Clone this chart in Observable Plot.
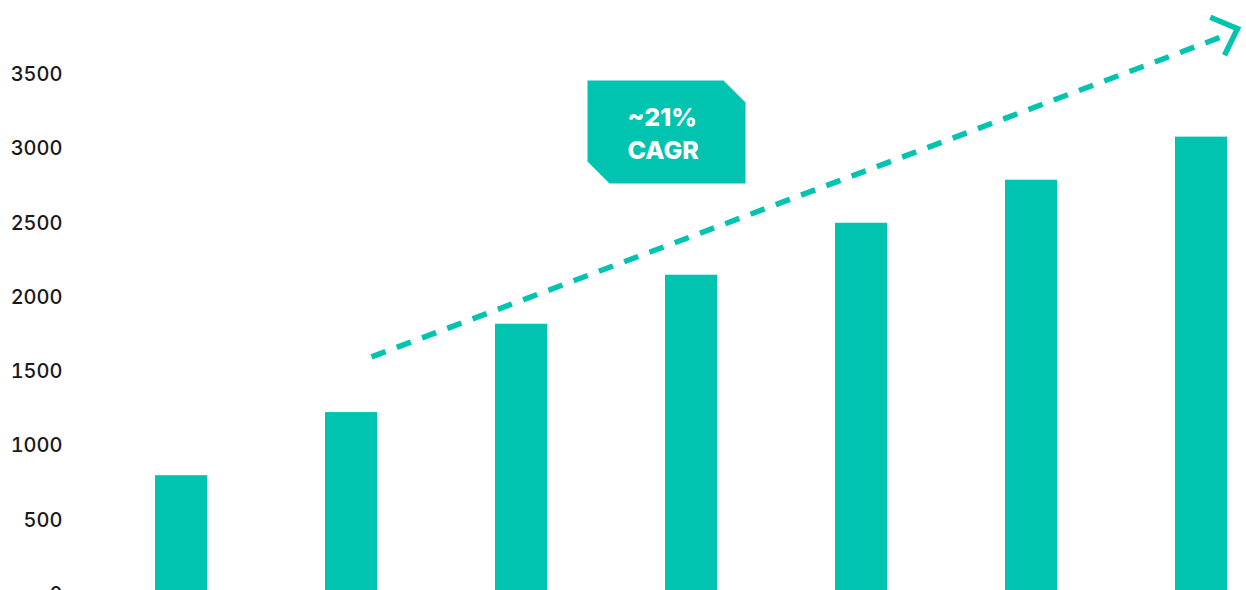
<!DOCTYPE html>
<html>
<head>
<meta charset="utf-8">
<script src="https://cdn.jsdelivr.net/npm/d3@7"></script>
<script src="https://cdn.jsdelivr.net/npm/@observablehq/plot@0.6"></script>
<style>
  html, body { margin: 0; padding: 0; background: #ffffff; overflow: hidden; }
  #chart svg { display: block; }
</style>
</head>
<body>
<div id="chart"></div>
<script>
// ---- data ----
const categories = ["Y1", "Y2", "Y3", "Y4", "Y5", "Y6", "Y7"];
const values = [800, 1225, 1820, 2150, 2500, 2790, 3080];
const yTicks = [0, 500, 1000, 1500, 2000, 2500, 3000, 3500];

// trend annotation (data coordinates)
const trendStart = {category: "Y2", value: 1600};
const trendEnd = {category: "Y7", value: 3755};
const trendTip = {category: "Y7", value: 3810};
const labelAnchor = {category: "Y4", value: 3115};
const labelText = "~21%\nCAGR";

const teal = "#00c4b0";
const data = categories.map((c, i) => ({category: c, value: values[i]}));

// custom symbols
const chevron = {
  draw(ctx, size) {
    const r = Math.sqrt(size / Math.PI);
    const a = r * 0.74, b = r * 0.7;
    ctx.moveTo(-a, -b);
    ctx.lineTo(0, 0);
    ctx.lineTo(-a, b);
  }
};
const tag = {
  draw(ctx) {
    const w = 79, h = 51.5, c = 22;
    ctx.moveTo(-w, -h);
    ctx.lineTo(w - c, -h);
    ctx.lineTo(w, -h + c);
    ctx.lineTo(w, h);
    ctx.lineTo(-w + c, h);
    ctx.lineTo(-w, h - c);
    ctx.closePath();
  }
};

const chart = Plot.plot({
  width: 1246,
  height: 640,
  marginTop: 0,
  marginBottom: 46,
  marginLeft: 153,
  marginRight: 17,
  style: {background: "#ffffff", color: "#1a1a1a", fontFamily: "Inter, 'Open Sans', sans-serif"},
  x: {domain: categories, axis: null, paddingInner: 0.695, paddingOuter: 0},
  y: {domain: [0, 4000], axis: null},
  marks: [
    Plot.axisY({ticks: yTicks, tickSize: 0, tickPadding: 91, fontSize: 20, fontWeight: 500, tickFormat: d => String(d), label: null}),
    Plot.barY(data, {x: "category", y: "value", fill: teal}),
    Plot.link([{}], {
      x1: () => trendStart.category, y1: () => trendStart.value,
      x2: () => trendEnd.category, y2: () => trendEnd.value,
      dx: 20, stroke: teal, strokeWidth: 5.5, strokeDasharray: "15,12"
    }),
    Plot.dot([trendTip], {
      x: "category", y: "value", dx: 36, r: 29, rotate: -20.5,
      symbol: chevron, fill: "none", stroke: teal, strokeWidth: 5.5,
      strokeLinejoin: "miter", strokeLinecap: "butt"
    }),
    Plot.dot([labelAnchor], {
      x: "category", y: "value", dx: -25, r: 10, symbol: tag, fill: teal, stroke: "none"
    }),
    Plot.text([labelAnchor], {
      x: "category", y: "value", text: () => labelText, dx: -64, dy: 0,
      textAnchor: "start", lineAnchor: "middle", lineHeight: 1.33,
      fontSize: 25, fontWeight: 800, fill: "#ffffff",
      style: {letterSpacing: "0.6px"}
    })
  ]
});
document.getElementById("chart").appendChild(chart);
</script>
</body>
</html>
